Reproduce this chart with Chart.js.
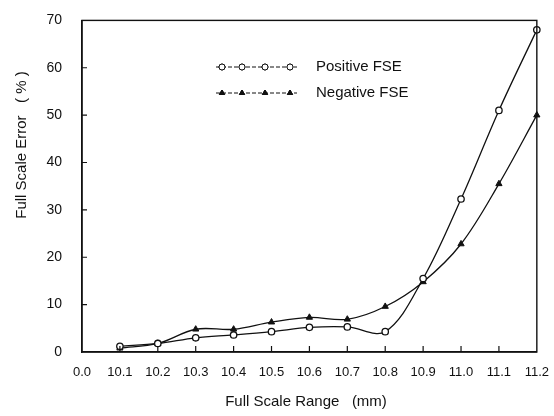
<!DOCTYPE html>
<html>
<head>
<meta charset="utf-8">
<script src="https://cdn.jsdelivr.net/npm/chart.js@4/dist/chart.umd.min.js"></script>
<style>
  body { margin: 0; background: #fff; }
  #box { width: 554px; height: 416px; }
</style>
</head>
<body>
<div id="box"><canvas id="grafico" width="554" height="416"></canvas></div>
<script>
// dados
const faixas = ["0.0", "10.1", "10.2", "10.3", "10.4", "10.5", "10.6", "10.7", "10.8", "10.9", "11.0", "11.1", "11.2"];
const fsePositivo = [null, 1.2, 1.8, 3.0, 3.6, 4.3, 5.2, 5.3, 4.3, 15.5, 32.3, 51, 68];
const fseNegativo = [null, 0.8, 1.8, 4.8, 4.8, 6.3, 7.3, 6.9, 9.6, 14.8, 22.8, 35.5, 50];
const ticksY = [0, 10, 20, 30, 40, 50, 60, 70];

const FONTE = "'Liberation Sans', Arial, sans-serif";
const PRETO = "#111";

// moldura, marcas internas, legenda e títulos dos eixos
const extras = {
  id: "extras",
  afterDraw(chart) {
    const { ctx, chartArea: a, scales: { x, y } } = chart;
    ctx.save();
    ctx.strokeStyle = PRETO;
    ctx.lineWidth = 1.4;
    ctx.strokeRect(a.left, a.top, a.right - a.left, a.bottom - a.top);

    ctx.lineWidth = 1.2;
    ctx.beginPath();
    faixas.forEach((_, i) => {
      if (i === 0 || i === faixas.length - 1) return;
      const px = x.getPixelForValue(i);
      ctx.moveTo(px, a.bottom);
      ctx.lineTo(px, a.bottom - 6);
    });
    ticksY.forEach(v => {
      if (v === 0 || v === 70) return;
      const py = y.getPixelForValue(v);
      ctx.moveTo(a.left, py);
      ctx.lineTo(a.left + 5, py);
    });
    ctx.stroke();

    // legenda
    const linhas = [
      { y: 67, nome: "Positive FSE", estilo: "circle" },
      { y: 93, nome: "Negative FSE", estilo: "triangle" }
    ];
    linhas.forEach(l => {
      ctx.strokeStyle = PRETO;
      ctx.lineWidth = 1;
      ctx.setLineDash([4, 2]);
      ctx.beginPath();
      ctx.moveTo(216, l.y);
      ctx.lineTo(297, l.y);
      ctx.stroke();
      ctx.setLineDash([]);
      [222, 242, 265, 290].forEach(mx => {
        Chart.helpers.drawPoint(ctx, {
          pointStyle: l.estilo, radius: 3, borderWidth: 1.2
        }, mx, l.y);
        ctx.fillStyle = l.estilo === "circle" ? "#fff" : PRETO;
        ctx.fill();
        ctx.stroke();
      });
      ctx.fillStyle = PRETO;
      ctx.font = "15px " + FONTE;
      ctx.textAlign = "left";
      ctx.textBaseline = "middle";
      ctx.fillText(l.nome, 316, l.y);
    });

    // títulos
    ctx.font = "15px " + FONTE;
    ctx.textAlign = "center";
    ctx.textBaseline = "middle";
    ctx.fillText("Full Scale Range   (mm)", 306, 402);
    ctx.translate(22, 145);
    ctx.rotate(-Math.PI / 2);
    ctx.fillText("Full Scale Error   ( % )", 0, 0);
    ctx.restore();
  }
};

new Chart(document.getElementById("grafico"), {
  type: "line",
  data: {
    labels: faixas,
    datasets: [
      {
        label: "Positive FSE",
        data: fsePositivo,
        borderColor: PRETO,
        borderWidth: 1.3,
        tension: 0.35,
        pointStyle: "circle",
        pointRadius: 3.2,
        pointBackgroundColor: "#fff",
        pointBorderColor: PRETO,
        pointBorderWidth: 1.3
      },
      {
        label: "Negative FSE",
        data: fseNegativo,
        borderColor: PRETO,
        borderWidth: 1.3,
        tension: 0.35,
        pointStyle: "triangle",
        pointRadius: 3.6,
        pointBackgroundColor: PRETO,
        pointBorderColor: PRETO,
        pointBorderWidth: 1
      }
    ]
  },
  options: {
    responsive: false,
    animation: false,
    layout: { padding: { left: 0, top: 16, right: 2, bottom: 0 } },
    plugins: { legend: { display: false }, tooltip: { enabled: false } },
    scales: {
      x: {
        type: "category",
        offset: false,
        grid: { display: false },
        border: { display: true, color: PRETO, width: 1.4 },
        ticks: {
          color: PRETO, autoSkip: false, maxRotation: 0, padding: 5,
          font: { family: FONTE, size: 13 }
        },
        afterFit: s => { s.height = 64; }
      },
      y: {
        min: 0, max: 70,
        grid: { display: false },
        border: { display: true, color: PRETO, width: 1.4 },
        ticks: {
          color: PRETO, stepSize: 10, padding: 12,
          font: { family: FONTE, size: 14 }
        },
        afterFit: s => { s.width = 82; }
      }
    }
  },
  plugins: [extras]
});
</script>
</body>
</html>
